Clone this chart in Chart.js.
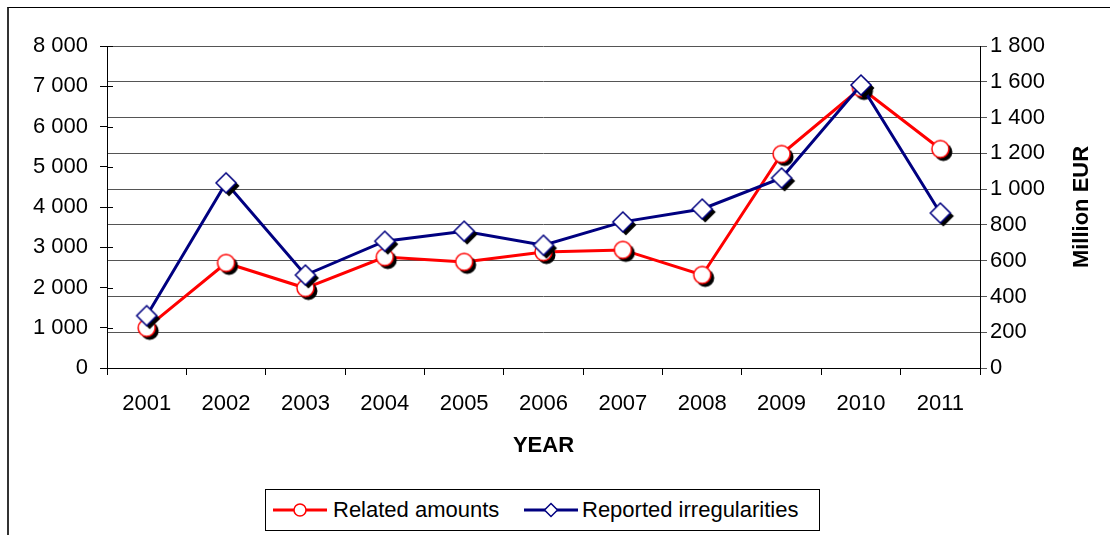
<!DOCTYPE html>
<html>
<head>
<meta charset="utf-8">
<script src="https://cdn.jsdelivr.net/npm/chart.js@4.4.0/dist/chart.umd.min.js"></script>
<style>
  body { margin: 0; background: #fff; font-family: "Liberation Sans", Arial, sans-serif; }
  #wrap { position: relative; width: 1110px; height: 535px; overflow: hidden; }
  #frame { position: absolute; left: 7px; top: 7px; width: 1200px; height: 600px;
           border-left: 2px solid #333; border-top: 1px solid #000; }
  #myChart { position: absolute; left: 0; top: 0; }
  #legend { position: absolute; left: 265px; top: 489px; width: 555px; height: 42px;
            box-sizing: border-box; border: 1px solid #000; background: #fff;
            font-size: 22px; color: #000; }
  #legend svg, #legend span { position: absolute; }
  #legend span { top: 8px; line-height: 24px; white-space: nowrap; }
</style>
</head>
<body>
<div id="wrap">
  <div id="frame"></div>
  <canvas id="myChart" width="1110" height="535"></canvas>
  <div id="legend">
    <svg style="left:7px;top:10px" width="54" height="20">
      <line x1="0" y1="10" x2="54" y2="10" stroke="#ff0000" stroke-width="3"/>
      <circle cx="27" cy="10" r="6" fill="#fff" stroke="#ff0000" stroke-width="1.5"/>
    </svg>
    <span style="left:67px">Related amounts</span>
    <svg style="left:258px;top:10px" width="54" height="20">
      <line x1="0" y1="10" x2="54" y2="10" stroke="#000080" stroke-width="3"/>
      <polygon points="27,3.5 33.5,10 27,16.5 20.5,10" fill="#fff" stroke="#000080" stroke-width="1.5"/>
    </svg>
    <span style="left:316px">Reported irregularities</span>
  </div>
</div>
<script>
const years = ['2001', '2002', '2003', '2004', '2005', '2006', '2007', '2008', '2009', '2010', '2011'];
// Million EUR (right axis)
const relatedAmounts = [224, 587, 447, 620, 593, 648, 660, 520, 1196, 1565, 1224];
// number of cases (left axis)
const reportedIrregularities = [1300, 4600, 2310, 3150, 3400, 3050, 3630, 3950, 4720, 7030, 3850];

const xTitle = 'YEAR';
const rightTitle = 'Million EUR';
const fontFamily = '"Liberation Sans", Arial, sans-serif';

// thousands with a space: 8 000
const fmt = v => v >= 1000 ? Math.floor(v / 1000) + ' ' + String(v % 1000).padStart(3, '0') : String(v);

// markers drawn with a black drop shadow, like the original
function markerImg(shape, r, color) {
  const off = 3, s = Math.ceil(2 * (r + off + 2));
  const c = document.createElement('canvas');
  c.width = s; c.height = s;
  const g = c.getContext('2d');
  const path = (cx, cy, rr) => {
    g.beginPath();
    if (shape === 'circle') {
      g.arc(cx, cy, rr, 0, Math.PI * 2);
    } else {
      g.moveTo(cx, cy - rr); g.lineTo(cx + rr, cy); g.lineTo(cx, cy + rr); g.lineTo(cx - rr, cy);
      g.closePath();
    }
  };
  path(s / 2 + off, s / 2 + off, r + 0.5);
  g.fillStyle = '#000'; g.fill();
  path(s / 2, s / 2, r);
  g.fillStyle = '#fff'; g.fill();
  g.lineWidth = 1.5; g.strokeStyle = color; g.stroke();
  return c;
}

const extras = {
  id: 'extras',
  beforeDatasetsDraw(chart) {
    const {ctx, chartArea: a, scales} = chart;
    ctx.save();
    ctx.strokeStyle = '#000'; ctx.lineWidth = 1;
    scales.y.ticks.forEach(t => {
      const y = Math.round(scales.y.getPixelForValue(t.value)) + 0.5;
      ctx.beginPath(); ctx.moveTo(a.left, y); ctx.lineTo(a.left + 6, y); ctx.stroke();
    });
    ctx.restore();
  },
  afterDraw(chart) {
    const {ctx, chartArea: a} = chart;
    ctx.save();
    ctx.font = 'bold 22px ' + fontFamily;
    ctx.fillStyle = '#000';
    ctx.textAlign = 'center';
    ctx.textBaseline = 'middle';
    ctx.fillText(xTitle, (a.left + a.right) / 2, 446);
    ctx.translate(1082, (a.top + a.bottom) / 2);
    ctx.rotate(-Math.PI / 2);
    ctx.fillText(rightTitle, 0, 0);
    ctx.restore();
  }
};

const tickFont = { family: fontFamily, size: 22 };

new Chart(document.getElementById('myChart'), {
  type: 'line',
  data: {
    labels: years,
    datasets: [
      {
        label: 'Related amounts',
        data: relatedAmounts,
        yAxisID: 'y1',
        borderColor: '#ff0000',
        backgroundColor: '#ffffff',
        borderWidth: 3,
        pointStyle: markerImg('circle', 8.5, '#ff0000'),
        pointRadius: 9,
        order: 1
      },
      {
        label: 'Reported irregularities',
        data: reportedIrregularities,
        yAxisID: 'y',
        borderColor: '#000080',
        backgroundColor: '#ffffff',
        borderWidth: 3,
        pointStyle: markerImg('diamond', 10, '#000080'),
        pointRadius: 10,
        order: 0
      }
    ]
  },
  options: {
    responsive: false,
    animation: false,
    devicePixelRatio: 1,
    layout: { padding: { top: 46, left: 0, right: 0, bottom: 0 } },
    plugins: { legend: { display: false }, tooltip: { enabled: false } },
    scales: {
      x: {
        offset: true,
        grid: { display: true, drawOnChartArea: false, tickLength: 7, color: '#000', offset: true },
        border: { color: '#000', width: 1 },
        ticks: { color: '#000', font: tickFont, padding: 16, maxRotation: 0, autoSkip: false },
        afterFit(s) { s.height = 167; }
      },
      y: {
        position: 'left',
        min: 0, max: 8000,
        grid: { drawOnChartArea: false, tickLength: 7, color: '#000' },
        border: { color: '#000', width: 1 },
        ticks: { stepSize: 1000, callback: fmt, color: '#000', font: tickFont, padding: 12 },
        afterFit(s) { s.width = 107; }
      },
      y1: {
        position: 'right',
        min: 0, max: 1800,
        grid: { drawOnChartArea: true, tickLength: 7, color: '#555' },
        border: { color: '#000', width: 1 },
        ticks: { stepSize: 200, callback: fmt, color: '#000', font: tickFont, padding: 3 },
        afterFit(s) { s.width = 130; }
      }
    }
  },
  plugins: [extras]
});
</script>
</body>
</html>
